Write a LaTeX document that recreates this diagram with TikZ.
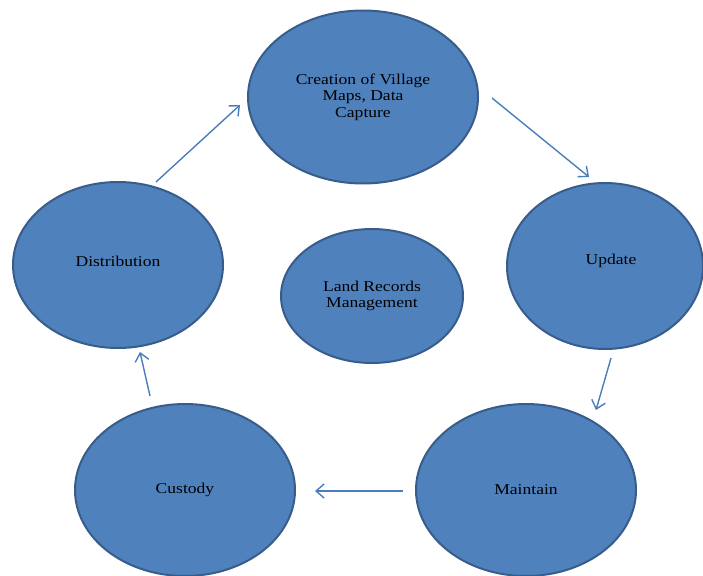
\documentclass[tikz,border=0pt]{standalone}
\usepackage{fontspec}
\setmainfont[FakeStretch=1.17]{Liberation Serif}
\usetikzlibrary{shapes.geometric,arrows.meta}
\definecolor{fillblue}{HTML}{4F81BD}
\definecolor{edgeblue}{HTML}{385D8A}
\definecolor{arrowblue}{HTML}{4A7EBB}
\tikzset{
  bubble/.style={ellipse, draw=edgeblue, fill=fillblue, line width=2pt, inner sep=0pt,
    align=center, text=black, font=\fontsize{15}{16.5}\selectfont},
  flow/.style={draw=arrowblue, line width=1.4pt, -{Straight Barb[length=8pt,width=14pt,line width=1.4pt]}}
}
\begin{document}
\begin{tikzpicture}[x=1pt,y=-1pt]
\useasboundingbox (0,0) rectangle (703,575);
\node[bubble, minimum width=230pt, minimum height=173pt] (create) at (363,97) {Creation of Village\\Maps, Data\\Capture};
\node[bubble, minimum width=196pt, minimum height=166pt, text depth=13pt] (update) at (605,266) {\hspace*{12pt}Update};
\node[bubble, minimum width=220pt, minimum height=172pt] (maintain) at (526,490) {Maintain};
\node[bubble, minimum width=220pt, minimum height=172pt] (custody) at (185,490) {Custody};
\node[bubble, minimum width=210pt, minimum height=166pt, text depth=8pt] (distrib) at (118,265) {Distribution};
\node[bubble, minimum width=182pt, minimum height=134pt] (lrm) at (372,296) {Land Records\\Management};
\coordinate (a1s) at (156,182); \coordinate (a1e) at (240,105);
\coordinate (a2s) at (492,98);  \coordinate (a2e) at (589,177);
\coordinate (a3s) at (611,358); \coordinate (a3e) at (596,410);
\coordinate (a4s) at (403,491); \coordinate (a4e) at (315,491);
\coordinate (a5s) at (150,396); \coordinate (a5e) at (140,352);
\draw[flow] (a1s) -- (a1e);
\draw[flow] (a2s) -- (a2e);
\draw[flow] (a3s) -- (a3e);
\draw[flow] (a4s) -- (a4e);
\draw[flow] (a5s) -- (a5e);
\end{tikzpicture}
\end{document}
